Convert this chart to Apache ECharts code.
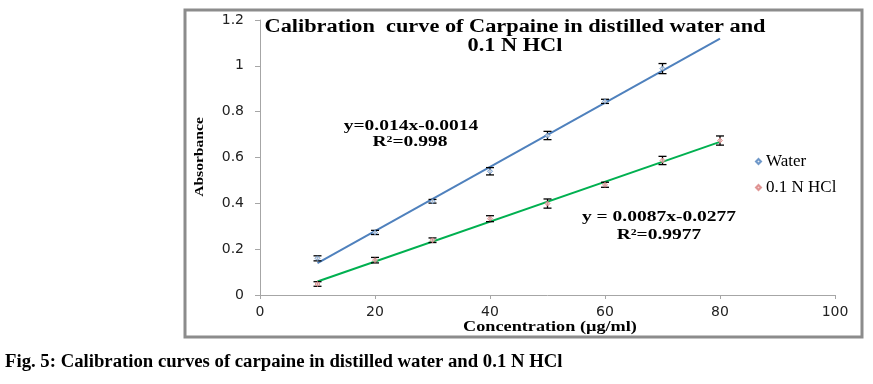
<!DOCTYPE html>
<html><head><meta charset="utf-8">
<script src="https://cdn.jsdelivr.net/npm/echarts@6/dist/echarts.min.js"></script>
<style>html,body{margin:0;padding:0;background:#fff}#c{width:873px;height:384px}</style>
</head><body><div id="c"></div>
<script>
var waterX = [10, 20, 30, 40, 50, 60, 70];
var waterY = [0.160, 0.273, 0.409, 0.540, 0.696, 0.845, 0.988];
var waterErr = [0.011, 0.009, 0.008, 0.016, 0.018, 0.009, 0.022];
var hclX = [10, 20, 30, 40, 50, 60, 70, 80];
var hclY = [0.048, 0.152, 0.239, 0.333, 0.399, 0.481, 0.587, 0.674];
var hclErr = [0.010, 0.012, 0.010, 0.013, 0.020, 0.011, 0.018, 0.020];
var waterTrend = [[10, 0.139], [80, 1.119]];
var hclTrend = [[10, 0.059], [80, 0.668]];
var xTicks = [0, 20, 40, 60, 80, 100];
var yTicks = [0, 0.2, 0.4, 0.6, 0.8, 1, 1.2];

function pairs(xs, ys) { return xs.map(function (x, i) { return [x, ys[i]]; }); }
function errData(xs, ys, es) { return xs.map(function (x, i) { return [x, ys[i] - es[i], ys[i] + es[i]]; }); }

function errRender(params, api) {
  var lo = api.coord([api.value(0), api.value(1)]);
  var hi = api.coord([api.value(0), api.value(2)]);
  var w = 4;
  var st = { stroke: '#000', lineWidth: 1.3 };
  return { type: 'group', children: [
    { type: 'line', shape: { x1: lo[0], y1: lo[1], x2: hi[0], y2: hi[1] }, style: st },
    { type: 'line', shape: { x1: lo[0] - w, y1: lo[1], x2: lo[0] + w, y2: lo[1] }, style: st },
    { type: 'line', shape: { x1: hi[0] - w, y1: hi[1], x2: hi[0] + w, y2: hi[1] }, style: st }
  ]};
}

var serif = '"Liberation Serif", "Times New Roman", serif';
function txt(s, x, y, size, sx, extra) {
  var o = { type: 'text', x: x, y: y, scaleX: sx, silent: true,
    style: { text: s, textAlign: 'center', textVerticalAlign: 'middle', font: 'bold ' + size + 'px ' + serif, fill: '#000' } };
  if (extra) { for (var k in extra) o[k] = extra[k]; }
  return o;
}
var chart = echarts.init(document.getElementById('c'));
chart.setOption({
  animation: false,
  grid: { left: 260, right: 38, top: 20, bottom: 89 },
  xAxis: {
    type: 'value', min: 0, max: 100, interval: 20,
    splitLine: { show: false },
    axisLine: { lineStyle: { color: '#a6a6a6', width: 1 } },
    axisTick: { show: true, length: 4, lineStyle: { color: '#a6a6a6' } },
    axisLabel: { color: '#222', fontFamily: '"DejaVu Sans", sans-serif', fontSize: 14, margin: 10,
      formatter: function (v) { return xTicks.indexOf(v) >= 0 ? String(v) : ''; } }
  },
  yAxis: {
    type: 'value', min: 0, max: 1.2, interval: 0.2,
    splitLine: { show: false },
    axisLine: { show: true, lineStyle: { color: '#a6a6a6', width: 1 } },
    axisTick: { show: true, length: 5, lineStyle: { color: '#a6a6a6' } },
    axisLabel: { color: '#222', fontFamily: '"DejaVu Sans", sans-serif', fontSize: 14, margin: 16,
      formatter: function (v) { var r = Math.round(v * 10) / 10; return yTicks.indexOf(r) >= 0 ? String(r) : ''; } }
  },
  legend: {
    orient: 'vertical', left: 750, top: 148, itemGap: 9, itemWidth: 5, itemHeight: 5,
    data: [{ name: 'Water', icon: 'diamond' }, { name: '0.1 N HCl', icon: 'diamond' }],
    textStyle: { fontFamily: serif, fontSize: 17, color: '#000' }
  },
  graphic: [
    { type: 'rect', shape: { x: 185, y: 10, width: 677, height: 327 }, style: { fill: 'none', stroke: '#8c8c8c', lineWidth: 3 }, silent: true },
    txt('Calibration  curve of Carpaine in distilled water and', 515, 27, 18, 1.24),
    txt('0.1 N HCl', 515, 46, 18, 1.24),
    txt('y=0.014x-0.0014', 411, 126, 15, 1.3),
    txt('R²=0.998', 410, 142, 15, 1.3),
    txt('y = 0.0087x-0.0277', 659, 217, 15, 1.3),
    txt('R²=0.9977', 659, 235, 15, 1.3),
    txt('Concentration (µg/ml)', 550, 327, 14, 1.3),
    txt('Absorbance', 200, 157, 13, 1.2, { rotation: Math.PI / 2 }),
    { type: 'text', x: 5, y: 362, scaleX: 1.04, silent: true,
      style: { text: 'Fig. 5: Calibration curves of carpaine in distilled water and 0.1 N HCl', textVerticalAlign: 'middle', font: 'bold 18px ' + serif, fill: '#000' } }
  ],
  series: [
    { name: 'waterTrend', type: 'line', data: waterTrend, symbol: 'none', lineStyle: { color: '#4f81bd', width: 2 }, silent: true, z: 2 },
    { name: 'hclTrend', type: 'line', data: hclTrend, symbol: 'none', lineStyle: { color: '#00b050', width: 2 }, silent: true, z: 2 },
    { name: 'waterErr', type: 'custom', renderItem: errRender, data: errData(waterX, waterY, waterErr), z: 3 },
    { name: 'hclErr', type: 'custom', renderItem: errRender, data: errData(hclX, hclY, hclErr), z: 3 },
    { name: 'Water', type: 'scatter', data: pairs(waterX, waterY), symbol: 'diamond', symbolSize: 5,
      itemStyle: { color: '#dce6f2', borderColor: '#4f81bd', borderWidth: 1 }, z: 4 },
    { name: '0.1 N HCl', type: 'scatter', data: pairs(hclX, hclY), symbol: 'diamond', symbolSize: 5,
      itemStyle: { color: '#f2c4c4', borderColor: '#d9807e', borderWidth: 1 }, z: 4 }
  ]
});
</script></body></html>
